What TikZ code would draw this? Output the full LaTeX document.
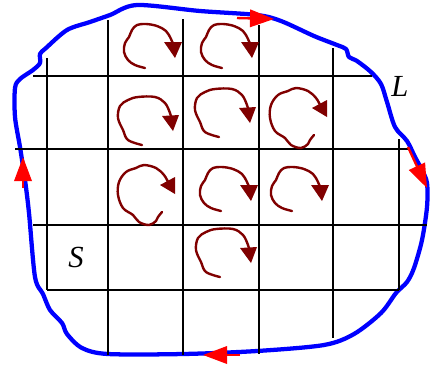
\documentclass[tikz,border=0pt]{standalone}
\usepackage{fontspec}
\setmainfont{Liberation Serif}
\usetikzlibrary{arrows.meta}
\definecolor{curlc}{RGB}{128,0,0}
\begin{document}
\begin{tikzpicture}[x=0.75pt,y=-0.75pt,
  gridline/.style={black,line width=1.6pt},
  boundary/.style={blue,line width=3.2pt,line join=round},
  curl/.style={curlc,line width=1.8pt,line cap=round},
  headfill/.style={fill=curlc},
  redarrow/.style={red,line width=1.8pt,-{Triangle[width=13pt,length=18pt]}},
  lbl/.style={font=\fontsize{23}{26}\selectfont\itshape,inner sep=0pt},
  curlA/.pic={
    \draw[curl] plot[smooth,tension=0.6] coordinates {(37,53) (27,50) (20,45) (16,37) (17,28) (21,22) (24,15) (29,10) (38,9) (49,11) (58,16) (63,24) (65,29)};
    \fill[headfill] (56,27) -- (74,27) -- (67,43) -- cycle;
  },
  curlB/.pic={
    \draw[curl] plot[smooth,tension=0.6] coordinates {(56,57) (52,62) (50,66) (43,70) (33,67) (27,60) (17,53) (12,40) (13,27) (20,17) (30,13) (38,10) (50,13) (58,20) (62,27)};
    \fill[headfill] (54,30) -- (69,22) -- (69,39) -- cycle;
  },
  curlC/.pic={
    \draw[curl] plot[smooth,tension=0.6] coordinates {(37,52) (23,47) (18,37) (13,25) (15,13) (23,7) (33,4) (50,4) (60,10) (65,20) (66,24)};
    \fill[headfill] (57,23) -- (74,22) -- (68,38) -- cycle;
  }]
\useasboundingbox (0,0) rectangle (434,365);

% boundary curve L
\draw[boundary] plot[smooth cycle,tension=0.5] coordinates {
  (137,5) (200,11) (257,15) (281,21) (314,36) (337,45) (346,49) (349,57) (357,61)
  (371,72) (381,84) (387,102) (395,127) (407,141) (415,157) (422,170) (427,183)
  (427,207) (422,240) (414,268) (407,282) (396,293) (381,313) (354,334) (324,345)
  (257,351) (183,354) (108,354) (82,348) (67,334) (62,323) (50,310) (43,294)
  (35,277) (29,213) (25,180) (20,147) (15,117) (15,88) (20,79) (33,70) (40,63)
  (40,54) (46,48) (67,30) (90,22) (110,15)};

% grid
\draw[gridline] (33,76) -- (372,76);
\draw[gridline] (15,149) -- (409,149);
\draw[gridline] (33,225) -- (427,225);
\draw[gridline] (47,290) -- (399,290);
\draw[gridline] (47,58) -- (47,290);
\draw[gridline] (108,20) -- (108,355);
\draw[gridline] (183,19) -- (183,355);
\draw[gridline] (259,25) -- (259,354);
\draw[gridline] (333,48) -- (333,338);
\draw[gridline] (399,139) -- (399,290);

% circulation curls
\pic at (108,15) {curlA};
\pic at (185,15) {curlA};
\pic at (105,93) {curlC};
\pic at (182,85) {curlC};
\pic at (258,78) {curlB};
\pic at (106,155) {curlB};
\pic at (184,158) {curlA};
\pic at (255,158) {curlA};
\pic at (183,225) {curlC};

% orientation arrows
\coordinate (la) at (23,188); \coordinate (lb) at (23,157);
\coordinate (ta) at (237,18); \coordinate (tb) at (274,19);
\coordinate (ra) at (408,147); \coordinate (rb) at (427,188);
\coordinate (ba) at (240,355); \coordinate (bb) at (203,355);
\draw[redarrow] (la) -- (lb);
\draw[redarrow] (ta) -- (tb);
\draw[redarrow] (ra) -- (rb);
\draw[redarrow] (ba) -- (bb);

% labels
\node[lbl] (labL) at (400,86) {L};
\node[lbl] (labS) at (76,257) {S};
\end{tikzpicture}
\end{document}
